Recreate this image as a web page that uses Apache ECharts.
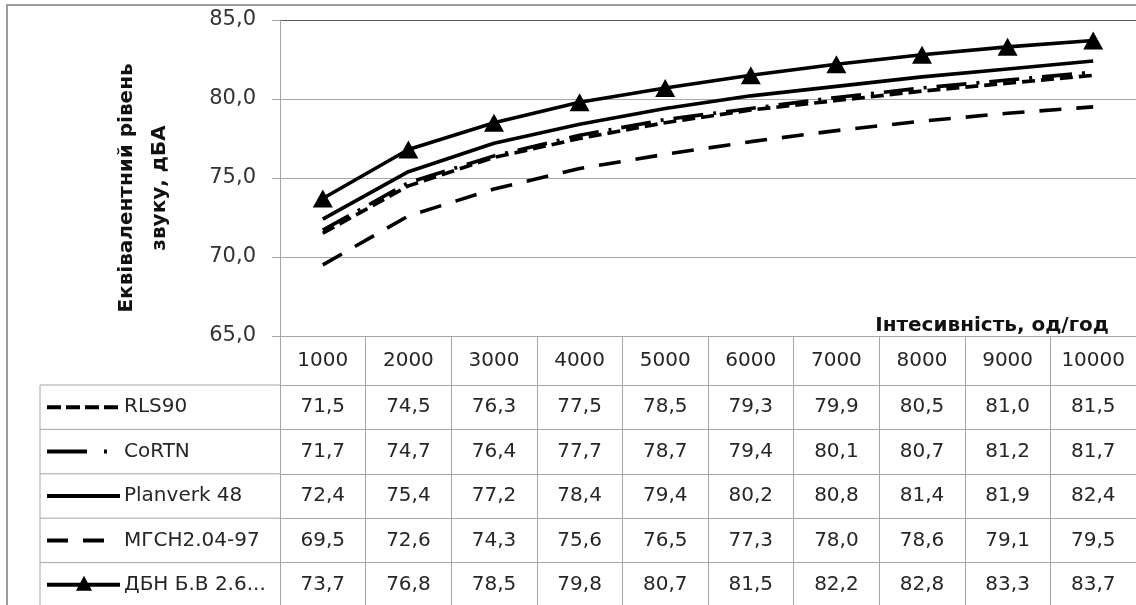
<!DOCTYPE html>
<html>
<head>
<meta charset="utf-8">
<script src="https://cdn.jsdelivr.net/npm/echarts@6/dist/echarts.min.js"></script>
<style>
  html, body { margin: 0; padding: 0; background: #fff; }
  #chart { width: 1136px; height: 605px; }
</style>
</head>
<body>
<div id="chart"></div>
<script>
// Traffic intensity, vehicles per hour
const categories = ['1000', '2000', '3000', '4000', '5000', '6000', '7000', '8000', '9000', '10000'];

// Equivalent sound level, dBA, by calculation method
const rls90    = [71.5, 74.5, 76.3, 77.5, 78.5, 79.3, 79.9, 80.5, 81.0, 81.5];
const cortn    = [71.7, 74.7, 76.4, 77.7, 78.7, 79.4, 80.1, 80.7, 81.2, 81.7];
const planverk = [72.4, 75.4, 77.2, 78.4, 79.4, 80.2, 80.8, 81.4, 81.9, 82.4];
const mgsn     = [69.5, 72.6, 74.3, 75.6, 76.5, 77.3, 78.0, 78.6, 79.1, 79.5];
const dbn      = [73.7, 76.8, 78.5, 79.8, 80.7, 81.5, 82.2, 82.8, 83.3, 83.7];

const seriesNames = ['RLS90', 'CoRTN', 'Planverk 48', 'МГСН2.04-97', 'ДБН Б.В 2.6...'];
const seriesData = [rls90, cortn, planverk, mgsn, dbn];

// Value axis range
const yMin = 65, yMax = 85, yStep = 5;

const FONT = 'DejaVu Sans';
const TEXT = '#262626';
const GRID_LINE = '#a6a6a6';
const fmt = v => v.toFixed(1).replace('.', ',');

// layout of the data table under the plot
const plotLeft = 280, plotTop = 20, plotBottomY = 336;
const headerH = 49, rowH = 44.4;
const keyLeft = 40;

// dash patterns of the plotted lines and of the keys in the table
const lineDash = [[13, 6], [30, 10, 3, 10], null, [22, 15], null];
const keyDash  = [[14, 5], [40, 17, 3, 30], null, [21, 15], null];
const keyEnd   = [120, 120, 120, 104, 120];

const chart = echarts.init(document.getElementById('chart'), null, { renderer: 'canvas' });

const series = seriesData.map((data, i) => ({
  name: seriesNames[i],
  type: 'line',
  xAxisIndex: 0,
  yAxisIndex: 0,
  data: data,
  symbol: i === 4 ? 'triangle' : 'none',
  symbolSize: [20, 18],
  showSymbol: i === 4,
  itemStyle: { color: '#000' },
  lineStyle: { color: '#000', width: 3.6, type: lineDash[i] || 'solid' },
  emphasis: { disabled: true },
  animation: false,
  z: 5 + i
}));

// One extra category axis per table row; its labels print that row's values
const tableAxes = seriesData.map((data, i) => ({
  type: 'category',
  gridIndex: 0,
  position: 'bottom',
  offset: headerH + rowH * i,
  data: categories,
  boundaryGap: true,
  axisLine: { show: true, lineStyle: { color: GRID_LINE, width: 1 } },
  axisTick: { show: true, length: rowH, lineStyle: { color: GRID_LINE, width: 1 } },
  axisLabel: {
    show: true,
    margin: rowH / 2,
    verticalAlign: 'middle',
    fontFamily: FONT,
    fontSize: 20,
    color: TEXT,
    formatter: (v, idx) => fmt(data[idx])
  },
  splitLine: { show: false }
}));

// Legend-key column on the left of the table: grid lines, line samples and names
const keyGraphics = [];
for (let i = 0; i <= 5; i++) {
  const y = plotBottomY + headerH + rowH * i;
  keyGraphics.push({
    type: 'line',
    shape: { x1: keyLeft, y1: y, x2: plotLeft, y2: y },
    style: { stroke: GRID_LINE, lineWidth: 1 },
    silent: true
  });
}
keyGraphics.push({
  type: 'line',
  shape: { x1: keyLeft, y1: plotBottomY + headerH, x2: keyLeft, y2: 610 },
  style: { stroke: GRID_LINE, lineWidth: 1 },
  silent: true
});
seriesNames.forEach((name, i) => {
  const cy = plotBottomY + headerH + rowH * i + rowH / 2;
  keyGraphics.push({
    type: 'line',
    shape: { x1: 47, y1: cy, x2: keyEnd[i], y2: cy },
    style: { stroke: '#000', lineWidth: 4, lineDash: keyDash[i] || null },
    silent: true
  });
  if (i === 4) {
    keyGraphics.push({
      type: 'polygon',
      shape: { points: [[84, cy - 9], [92, cy + 6], [76, cy + 6]] },
      style: { fill: '#000' },
      silent: true
    });
  }
  keyGraphics.push({
    type: 'text',
    x: 124,
    y: cy,
    style: {
      text: name,
      fontFamily: FONT,
      fontSize: 20,
      fill: TEXT,
      verticalAlign: 'middle',
      align: 'left'
    },
    silent: true
  });
});

const option = {
  backgroundColor: '#fff',
  animation: false,
  textStyle: { fontFamily: FONT },
  grid: {
    left: plotLeft,
    right: -9,
    top: plotTop,
    bottom: 605 - plotBottomY,
    containLabel: false
  },
  xAxis: [
    {
      type: 'category',
      gridIndex: 0,
      position: 'bottom',
      data: categories,
      boundaryGap: true,
      name: 'Інтесивність, од/год',
      nameLocation: 'end',
      nameGap: 0,
      nameTextStyle: {
        fontFamily: FONT, fontWeight: 'bold', fontSize: 20, color: '#111',
        align: 'right', verticalAlign: 'bottom',
        padding: [0, 27, 0, 0]
      },
      axisLine: { show: true, lineStyle: { color: GRID_LINE, width: 1 } },
      axisTick: { show: true, length: headerH, lineStyle: { color: GRID_LINE, width: 1 } },
      axisLabel: {
        margin: headerH / 2,
        verticalAlign: 'middle',
        fontFamily: FONT, fontSize: 20, color: TEXT
      },
      splitLine: { show: false }
    }
  ].concat(tableAxes),
  yAxis: [{
    type: 'value',
    gridIndex: 0,
    min: yMin,
    max: yMax,
    interval: yStep,
    name: 'Еквівалентний рівень\nзвуку, дБА',
    nameLocation: 'middle',
    nameRotate: 90,
    nameGap: 104,
    nameTextStyle: {
      fontFamily: FONT, fontWeight: 'bold', fontSize: 20, color: '#111',
      lineHeight: 33, align: 'center',
      padding: [0, 20, 0, 0]
    },
    axisLine: { show: true, lineStyle: { color: GRID_LINE, width: 1 } },
    axisTick: { show: true, length: 8, lineStyle: { color: GRID_LINE, width: 1 } },
    axisLabel: {
      margin: 24,
      fontFamily: FONT, fontSize: 21, color: '#333',
      formatter: v => fmt(v)
    },
    splitLine: {
      show: true,
      lineStyle: { color: [GRID_LINE, GRID_LINE, GRID_LINE, GRID_LINE, '#595959'], width: 1 }
    }
  }],
  graphic: [
    {
      type: 'rect',
      shape: { x: 7, y: 5, width: 1150, height: 620 },
      style: { fill: 'none', stroke: '#9c9c9c', lineWidth: 2 },
      silent: true,
      z: 0
    }
  ].concat(keyGraphics),
  series: series
};

chart.setOption(option);
</script>
</body>
</html>
